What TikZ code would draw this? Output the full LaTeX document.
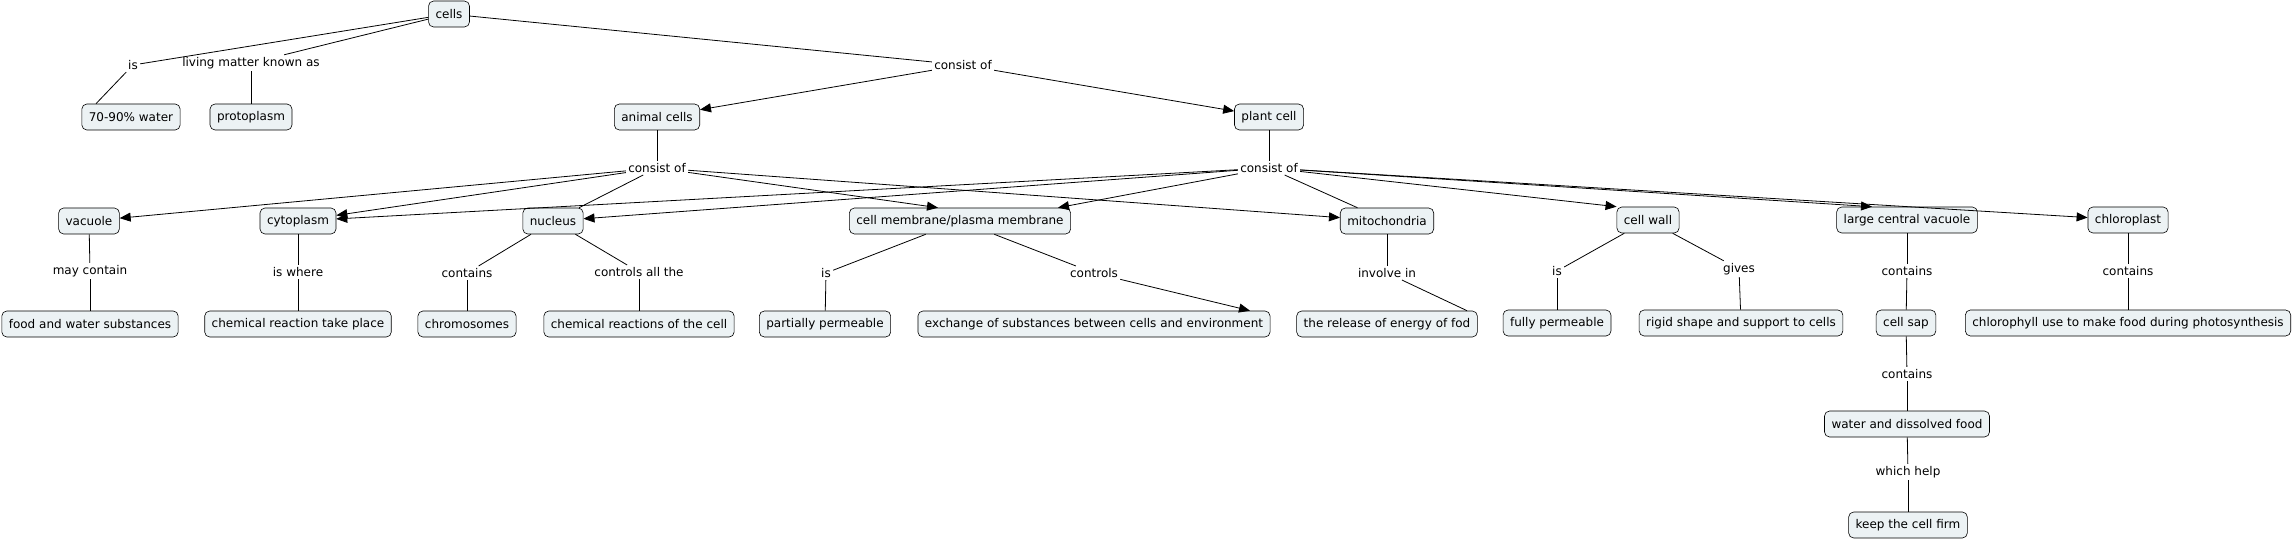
\documentclass[tikz,border=0pt]{standalone}
\usepackage{fontspec}
\setmainfont{DejaVu Sans}
\usetikzlibrary{arrows.meta}
\definecolor{cfill}{RGB}{236,242,244}
\begin{document}
\begin{tikzpicture}[x=1pt, y=-1pt, line width=0.8pt, >={Triangle[length=11pt,width=9pt]},
  every node/.style={font=\fontsize{12}{14}\selectfont},
  concept/.style={draw, line width=0.6pt, fill=cfill, rounded corners=5pt, minimum height=26pt, inner xsep=7pt},
  phrase/.style={inner sep=2pt}]
\useasboundingbox (0,0) rectangle (2294,540);
\node[concept] (cells) at (449,14) {cells};
\node[phrase] (is1) at (133,65) {is};
\node[phrase] (known) at (251,63) {living matter known as};
\node[phrase] (cons) at (963,65) {consist of};
\node[concept] (water) at (131,117) {70-90\% water};
\node[concept] (proto) at (251,117) {protoplasm};
\node[concept] (animal) at (657,117) {animal cells};
\node[concept] (plant) at (1269,117) {plant cell};
\node[phrase] (consA) at (657,168) {consist of};
\node[phrase] (consP) at (1269,168) {consist of};

\node[concept] (vac) at (89,221) {vacuole};
\node[concept] (cyto) at (298,221) {cytoplasm};
\node[concept] (nuc) at (553,221) {nucleus};
\node[concept] (mem) at (960,221) {cell membrane/plasma membrane};
\node[concept] (mito) at (1387,221) {mitochondria};
\node[concept] (wall) at (1648,220) {cell wall};
\node[concept] (lcv) at (1907,220) {large central vacuole};
\node[concept] (chloro) at (2128,220) {chloroplast};

\node[phrase] (may) at (90,271) {may contain};
\node[phrase] (where) at (298,272) {is where};
\node[phrase] (cont1) at (467,273) {contains};
\node[phrase] (ctrlall) at (639,272) {controls all the};
\node[phrase] (is2) at (826,273) {is};
\node[phrase] (ctrl) at (1094,273) {controls};
\node[phrase] (inv) at (1387,273) {involve in};
\node[phrase] (is3) at (1557,271) {is};
\node[phrase] (gives) at (1739,269) {gives};
\node[phrase] (cont2) at (1907,271) {contains};
\node[phrase] (cont3) at (2128,271) {contains};

\node[concept] (food) at (90,324) {food and water substances};
\node[concept] (chem) at (298,324) {chemical reaction take place};
\node[concept] (chromo) at (467,324) {chromosomes};
\node[concept] (chemcell) at (639,324) {chemical reactions of the cell};
\node[concept] (partial) at (825,324) {partially permeable};
\node[concept] (exch) at (1094,324) {exchange of substances between cells and environment};
\node[concept] (release) at (1387,324) {the release of energy of fod};
\node[concept] (fully) at (1557,323) {fully permeable};
\node[concept] (rigid) at (1741,323) {rigid shape and support to cells};
\node[concept] (sap) at (1906,323) {cell sap};
\node[concept] (chlphyl) at (2128,323) {chlorophyll use to make food during photosynthesis};

\node[phrase] (cont4) at (1907,374) {contains};
\node[concept] (wdf) at (1907,424) {water and dissolved food};
\node[phrase] (help) at (1908,472) {which help};
\node[concept] (firm) at (1908,525) {keep the cell firm};

\draw (cells) to (is1);
\draw (is1) to ([xshift=-35pt]water.north);
\draw (cells) to (known);
\draw (known) to (proto);
\draw (cells) to (cons);
\draw[->] (cons) to (animal);
\draw[->] (cons) to (plant);
\draw (animal) to (consA);
\draw (plant) to (consP);

\draw[->] (consA) to (vac);
\draw[->] (consA) to (cyto);
\draw (consA) to (nuc);
\draw[->] (consA) to ([xshift=-22pt]mem.north);
\draw[->] (consA) to (mito);
\draw[->] (consP) to (cyto);
\draw[->] (consP) to (nuc);
\draw[->] (consP) to ([xshift=98pt]mem.north);
\draw (consP) to (mito);
\draw[->] (consP) to (wall.north west);
\draw[->] (consP) to ([xshift=-35pt]lcv.north);
\draw[->] (consP) to (chloro);

\draw (vac) to (may);
\draw (may) to (food);
\draw (cyto) to (where);
\draw (where) to (chem);
\draw (nuc) to (cont1);
\draw (cont1) to (chromo);
\draw (nuc) to (ctrlall);
\draw (ctrlall) to (chemcell);
\draw (mem) to (is2);
\draw (is2) to (partial);
\draw (mem) to (ctrl);
\draw[->] (ctrl) to ([xshift=156pt]exch.north);
\draw (mito) to (inv);
\draw (inv) to ([xshift=80pt]release.north);
\draw (wall) to (is3);
\draw (is3) to (fully);
\draw (wall) to (gives);
\draw (gives) to (rigid);
\draw (lcv) to (cont2);
\draw (cont2) to (sap);
\draw (chloro) to (cont3);
\draw (cont3) to (chlphyl);
\draw (sap) to (cont4);
\draw (cont4) to (wdf);
\draw (wdf) to (help);
\draw (help) to (firm);
\end{tikzpicture}
\end{document}
